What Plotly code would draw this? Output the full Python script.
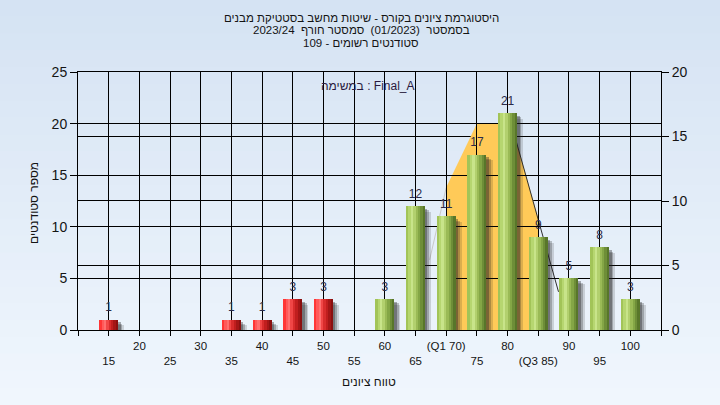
import math
import plotly.graph_objects as go

# ---------------- data ----------------
categories = [15, 20, 25, 30, 35, 40, 45, 50, 55, 60, 65, 70, 75, 80, 85, 90, 95, 100]
counts = [1, 0, 0, 0, 1, 1, 3, 3, 0, 3, 12, 11, 17, 21, 9, 5, 8, 3]
pass_mark = 55

tick_values = [10, 15, 20, 25, 30, 35, 40, 45, 50, 55, 60, 65, 70, 75, 80, 85, 90, 95, 100, 105]
tick_labels = ["", "<br>15", "20", "<br>25", "30", "<br>35", "40", "<br>45", "50", "<br>55",
               "60", "<br>65", "(Q1 70)", "<br>75", "80", "<br>(Q3 85)", "90", "<br>95", "100", ""]
left_ticks = [0, 5, 10, 15, 20, 25]
right_ticks = [0, 5, 10, 15, 20]
left_max = 25
right_max = 20

# interquartile area (Q1..Q3) and its tails, read in left-axis units
iqr_x = [70, 70, 75, 80.6, 85, 85]
iqr_y = [0, 13.8, 20, 20, 10.8, 0]
tail_left_x = [67.3, 70]
tail_left_y = [6.8, 13.8]
tail_right_x = [80.6, 88.3]
tail_right_y = [20, 3.7]

title_lines = [
    "היסטוגרמת ציונים בקורס - שיטות מחשב בסטטיקת מבנים",
    "בסמסטר  (01/2023)  סמסטר חורף  2023/24",
    "סטודנטים רשומים - 109",
]
legend_text = "במשימה : Final_A"
x_title = "טווח ציונים"
y_title = "מספר סטודנטים"

# ---------------- styling ----------------
FONT = "Liberation Sans"
PLOT_H = 258
green_stripes = ["#a2c458", "#b6d670", "#c8e48a", "#b2d06e", "#9aba56", "#84a646", "#6e8e38", "#58762a"]
red_stripes = ["#ff3636", "#ff5a5a", "#ff7070", "#f04646", "#d82c2c", "#c01e1e", "#a41616", "#8a1010"]
BAR_W = 3.1

bx = [c for c, v in zip(categories, counts) if v > 0]
by = [v for v in counts if v > 0]

fig = go.Figure()

# soft shadows to the right / below
for dx, dy, col in [(1.0, 0.55, "rgba(30,30,30,0.16)"), (0.7, 0.4, "rgba(30,30,30,0.25)"),
                    (0.4, 0.25, "rgba(30,30,30,0.35)")]:
    fig.add_trace(go.Bar(x=bx, y=[max(v - dy, 0) for v in by], base=0,
                         offset=-BAR_W / 2 + dx, width=BAR_W,
                         marker=dict(color=col, line=dict(width=0)),
                         hoverinfo="skip", showlegend=False))

# cylinder-like bars made of stripes
n = len(green_stripes)
w = BAR_W / n
for i in range(n):
    cols = [green_stripes[i] if c > pass_mark else red_stripes[i] for c in bx]
    fig.add_trace(go.Bar(x=bx, y=by, base=0, offset=-BAR_W / 2 + i * w,
                         width=w * 1.25 if i < n - 1 else w,
                         marker=dict(color=cols, line=dict(width=0)),
                         hoverinfo="skip", showlegend=False))

# value labels
fig.add_trace(go.Scatter(x=bx, y=by, mode="markers+text", text=[str(v) for v in by],
                         textposition="top center",
                         marker=dict(size=7, opacity=0),
                         textfont=dict(family=FONT, size=12, color="#2b2b48"),
                         hoverinfo="skip", showlegend=False))

# dummy trace for right axis
fig.add_trace(go.Scatter(x=[categories[0]], y=[0], yaxis="y2", mode="markers",
                         marker=dict(opacity=0), hoverinfo="skip", showlegend=False))

shapes = []
# paper gradient
top = (213, 227, 243)
bot = (240, 246, 253)
nb = 24
y_lo, y_hi = -75 / PLOT_H, 1 + 72 / PLOT_H
for k in range(nb):
    t = k / (nb - 1)
    c = tuple(int(round(top[j] + (bot[j] - top[j]) * t)) for j in range(3))
    y1 = y_hi - (y_hi - y_lo) * k / nb
    y0 = y_hi - (y_hi - y_lo) * (k + 1) / nb
    shapes.append(dict(type="rect", xref="paper", yref="paper", layer="below",
                       x0=-0.2, x1=1.2, y0=y0 - 0.002, y1=y1 + 0.002,
                       fillcolor=f"rgb{c}", line=dict(width=0)))

# right-axis gridlines (under the IQR area and bars), snapped to pixel centres
for v in right_ticks[1:-1]:
    px = v / right_max * PLOT_H
    px = math.floor(px) + 0.5
    yv = px / PLOT_H * left_max
    shapes.append(dict(type="line", xref="x", yref="y", layer="below",
                       x0=tick_values[0], x1=tick_values[-1], y0=yv, y1=yv,
                       line=dict(color="black", width=1)))

# IQR area + tails
path = "M " + " L ".join(f"{x},{y}" for x, y in zip(iqr_x, iqr_y)) + " Z"
shapes.append(dict(type="path", path=path, xref="x", yref="y", layer="below",
                   fillcolor="#ffca58", line=dict(width=0)))
shapes.append(dict(type="line", xref="x", yref="y", layer="below",
                   x0=tail_left_x[0], y0=tail_left_y[0], x1=tail_left_x[1], y1=tail_left_y[1],
                   line=dict(color="#c8c8c8", width=1)))
shapes.append(dict(type="line", xref="x", yref="y", layer="below",
                   x0=tail_right_x[0], y0=tail_right_y[0], x1=tail_right_x[1], y1=tail_right_y[1],
                   line=dict(color="#303030", width=1)))

annotations = []
for yy, line in zip([18, 30.5, 43], title_lines):
    annotations.append(dict(text="\u202b" + line + "\u202c", xref="paper", yref="paper",
                            x=(361 - 78) / 583, y=(330 - yy) / PLOT_H, showarrow=False,
                            xanchor="center", yanchor="middle",
                            font=dict(family=FONT, size=11.5, color="#141414")))
annotations.append(dict(text=legend_text, xref="paper", yref="paper", x=(368 - 78) / 583,
                        y=(330 - 86) / PLOT_H, showarrow=False, xanchor="center", yanchor="middle",
                        font=dict(family=FONT, size=12, color="#2a1a40")))
annotations.append(dict(text=x_title, xref="paper", yref="paper", x=(369 - 78) / 583,
                        y=(330 - 382) / PLOT_H, showarrow=False, xanchor="center", yanchor="middle",
                        font=dict(family=FONT, size=12, color="#141414")))
annotations.append(dict(text=y_title, xref="paper", yref="paper", x=(34 - 78) / 583,
                        y=(330 - 203) / PLOT_H, showarrow=False, xanchor="center", yanchor="middle",
                        textangle=-90, font=dict(family=FONT, size=12, color="#141414")))

fig.update_layout(
    width=720, height=405,
    margin=dict(l=78, r=59, t=72, b=75),
    paper_bgcolor="rgb(240,246,253)",
    plot_bgcolor="#b3b3b3",
    barmode="overlay",
    bargap=0,
    showlegend=False,
    shapes=shapes,
    annotations=annotations,
    xaxis=dict(range=[10, 105], tickmode="array", tickvals=tick_values, ticktext=tick_labels,
               showgrid=True, gridcolor="black", gridwidth=1, zeroline=False,
               showline=True, linecolor="black", linewidth=1, mirror=True,
               ticks="outside", ticklen=5, tickcolor="black",
               tickfont=dict(family=FONT, size=11.5, color="#141414"), fixedrange=True),
    yaxis=dict(range=[0, left_max], tickmode="array", tickvals=left_ticks,
               showgrid=True, gridcolor="black", gridwidth=1, zeroline=False,
               showline=True, linecolor="black", linewidth=1, mirror=True,
               ticks="outside", ticklen=7, tickcolor="black",
               tickfont=dict(family=FONT, size=14, color="#141414"), fixedrange=True),
    yaxis2=dict(range=[0, right_max], tickmode="array", tickvals=right_ticks, overlaying="y",
                side="right", anchor="x",
                showgrid=False, zeroline=False,
                showline=True, linecolor="black", linewidth=1,
                ticks="outside", ticklen=7, tickcolor="black",
                tickfont=dict(family=FONT, size=14, color="#141414"), fixedrange=True),
)

fig.write_html("out.html", config={"displayModeBar": False},
               post_script="document.body.style.margin='0';")
